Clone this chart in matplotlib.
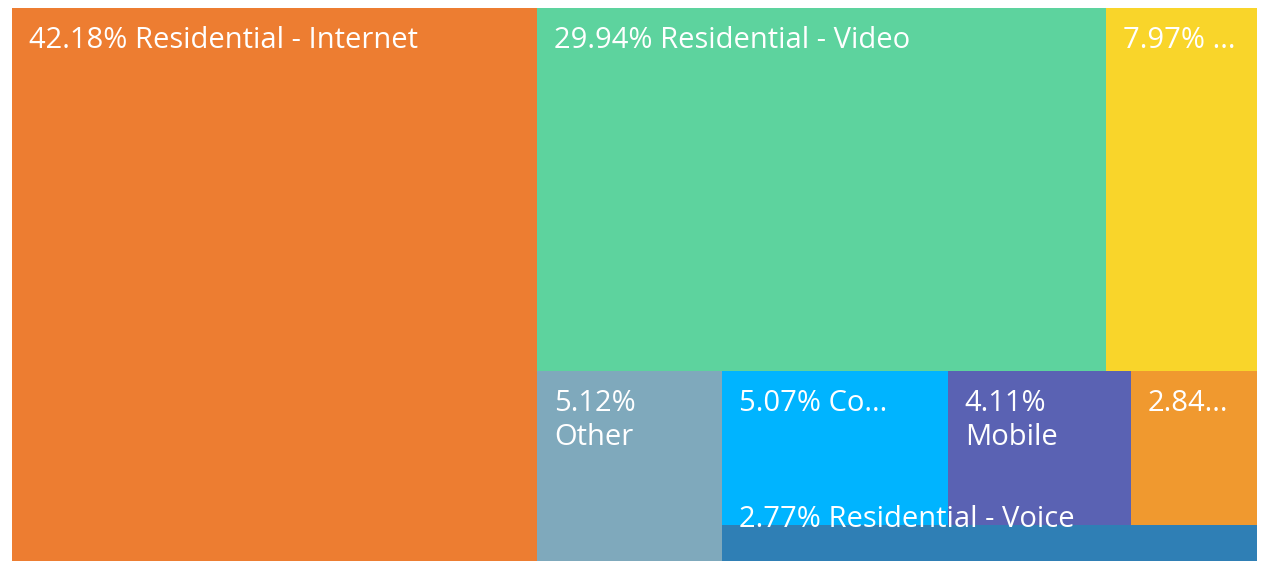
import matplotlib.pyplot as plt
from matplotlib.patches import Rectangle

labels = ["42.18% Residential - Internet", "29.94% Residential - Video", "7.97% ...",
          "5.12%\nOther", "5.07% Co...", "4.11%\nMobile", "2.84...", "2.77% Residential - Voice"]
values = [42.18, 29.94, 7.97, 5.12, 5.07, 4.11, 2.84, 2.77]
colors = ["#ED7D31", "#5DD39E", "#F9D52A", "#7FA9BC", "#00B4FF", "#5A62B3", "#F0992F", "#2F7FB5"]

# nested grouping of item indices; direction alternates per level (h = side by side)
tree = [0, [[1, 2], [3, [[4, 5, 6], 7]]]]

def total(node):
    return values[node] if isinstance(node, int) else sum(total(n) for n in node)

rects = {}
def layout(node, x, y, w, h, horiz):
    if isinstance(node, int):
        rects[node] = (x, y, w, h)
        return
    t = total(node)
    for child in node:
        f = total(child) / t
        if horiz:
            layout(child, x, y, w * f, h, not horiz)
            x += w * f
        else:
            layout(child, x, y, w, h * f, not horiz)
            y += h * f

W, H = 1245, 553
layout(tree, 0, 0, W, H, True)

fig = plt.figure(figsize=(12.66, 5.68), dpi=100)
ax = fig.add_axes([12 / 1266, 7 / 568, W / 1266, H / 568])
ax.set_xlim(0, W)
ax.set_ylim(H, 0)
ax.axis("off")

for i, (x, y, w, h) in rects.items():
    ax.add_patch(Rectangle((x, y), w, h, facecolor=colors[i], linewidth=0))
for i, (x, y, w, h) in rects.items():
    if h < 60:
        ax.text(x + 17, y - 6, labels[i], color="white", fontsize=21, family="Open Sans", va="center")
    else:
        ax.text(x + 17, y + 18, labels[i], color="white", fontsize=21, family="Open Sans", va="top",
                linespacing=1.25)

fig.savefig("out.png", dpi=100)
